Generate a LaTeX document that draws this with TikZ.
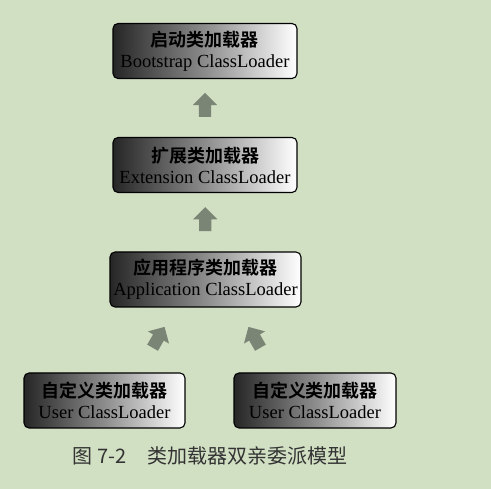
\documentclass[tikz,border=0pt]{standalone}
\usepackage{fontspec}
\setmainfont{Liberation Serif}
\newfontfamily\cjk{Noto Sans CJK SC}
\newfontfamily\cjkb{Noto Sans CJK SC Bold}
\usetikzlibrary{shapes.arrows,calc}
\definecolor{bgc}{HTML}{D1DFC3}
\definecolor{arrc}{HTML}{7B8576}
\tikzset{
  loader/.style={draw=black, line width=1.1pt, rounded corners=5pt,
    left color=black!85, right color=white, middle color=black!45,
    align=center, inner sep=0pt, minimum height=55pt,
    font=\fontsize{18.5}{21}\selectfont},
  blockarrow/.style={single arrow, fill=arrc, draw=none, inner xsep=0pt,
    inner ysep=6pt, minimum height=24pt,
    single arrow head extend=6pt, single arrow tip angle=90},
  cnb/.style={}
}
\newcommand{\cnbox}[1]{{\cjkb\fontsize{18}{21}\selectfont #1}}
\begin{document}
\begin{tikzpicture}[x=1pt,y=-1pt]
\fill[bgc] (0,0) rectangle (491,489);
\useasboundingbox (0,0) rectangle (491,489);
\node[loader, minimum width=184pt] (boot) at (205,51)
  {\cnbox{启动类加载器}\\Bootstrap ClassLoader};
\node[loader, minimum width=184pt] (ext) at (205,165)
  {\cnbox{扩展类加载器}\\Extension ClassLoader};
\node[loader, minimum width=191pt] (app) at (205.5,279.5)
  {\cnbox{应用程序类加载器}\\Application ClassLoader};
\node[loader, minimum width=161pt] (u1) at (104.5,400.5)
  {\cnbox{自定义类加载器}\\User ClassLoader};
\node[loader, minimum width=162pt] (u2) at (315,400.5)
  {\cnbox{自定义类加载器}\\User ClassLoader};
\node[blockarrow, rotate=90] (a1) at ($(ext.north)!0.5!(boot.south)$) {};
\node[blockarrow, rotate=90] (a2) at ($(app.north)!0.5!(ext.south)$) {};
\node[blockarrow, rotate=60] (a3) at (157,340) {};
\node[blockarrow, rotate=120] (a4) at (256,340) {};
\node[font=\cjk\fontsize{20}{22}\selectfont, text=black!80] (cap) at (210,456)
  {图 7-2\hspace{21pt}类加载器双亲委派模型};
\end{tikzpicture}
\end{document}
